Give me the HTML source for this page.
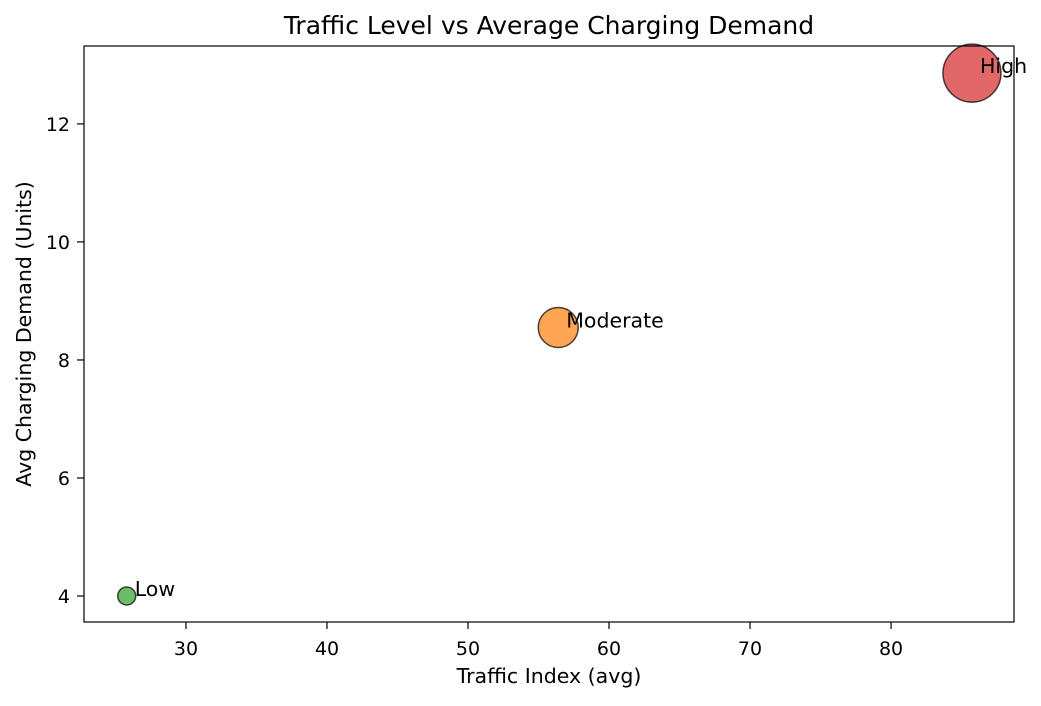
<!DOCTYPE html>
<html><head><meta charset="utf-8"><style>
body{margin:0;background:#fff;}
svg text{font-family:"DejaVu Sans","Liberation Sans",sans-serif;fill:#000;}
</style></head><body>
<svg width="1041" height="701">
<rect x="0" y="0" width="1041" height="701" fill="#fff"/>
<g id="marks"></g>
<g id="axes"></g>
</svg>
<script>
const categories = ["Low","Moderate","High"];
const trafficValues = [25.8, 56.4, 85.74];
const demandValues = [4.0, 8.55, 12.86];
const bubbleSizes = [9, 20, 29];
const colors = ["#2ca02c","#ff7f0e","#d62728"];
const xTicks = [30,40,50,60,70,80];
const yTicks = [4,6,8,10,12];

const L=84,R=1014,T=46,B=622;
const xMin=22.77,xMax=88.72,yMin=3.56,yMax=13.32;
const xs=v=>L+(v-xMin)/(xMax-xMin)*(R-L);
const ys=v=>B-(v-yMin)/(yMax-yMin)*(B-T);
const NS="http://www.w3.org/2000/svg";
const marks=document.getElementById('marks'), axes=document.getElementById('axes');
function mk(tag,attrs,parent,text){const e=document.createElementNS(NS,tag);for(const k in attrs)e.setAttribute(k,attrs[k]);if(text!==undefined)e.textContent=text;parent.appendChild(e);return e;}

categories.forEach((c,i)=>{
  const cx=xs(trafficValues[i]), cy=ys(demandValues[i]);
  const b=mk('circle',{cx:cx,cy:cy,r:bubbleSizes[i],fill:colors[i],'fill-opacity':0.7,stroke:'#000','stroke-opacity':0.7,'stroke-width':1.5},marks);
  
  
  const t=mk('text',{x:cx+8,y:cy,'font-size':20.5},marks,c);
  
  
});

const frame=mk('rect',{x:L,y:T,width:R-L,height:B-T,fill:'none',stroke:'#000','stroke-width':1.2},axes);



xTicks.forEach(v=>{
  const x=xs(v);
  mk('line',{x1:x,x2:x,y1:B,y2:B+7,stroke:'#000','stroke-width':1.2},axes);
  const t=mk('text',{x:x,y:B+33,'font-size':19,'text-anchor':'middle'},axes,String(v));
  
  
});
yTicks.forEach(v=>{
  const y=ys(v);
  mk('line',{x1:L-7,x2:L,y1:y,y2:y,stroke:'#000','stroke-width':1.2},axes);
  const t=mk('text',{x:L-14,y:y+7,'font-size':19,'text-anchor':'end'},axes,String(v));
  
  
});

const title=mk('text',{x:(L+R)/2,y:34,'font-size':25,'text-anchor':'middle'},axes,'Traffic Level vs Average Charging Demand');


const xt=mk('text',{x:(L+R)/2,y:683,'font-size':20.5,'text-anchor':'middle'},axes,'Traffic Index (avg)');


const yt=mk('text',{x:0,y:0,'font-size':20.5,'text-anchor':'middle',transform:'translate(31,'+((T+B)/2)+') rotate(-90)'},axes,'Avg Charging Demand (Units)');


</script>
</body></html>
